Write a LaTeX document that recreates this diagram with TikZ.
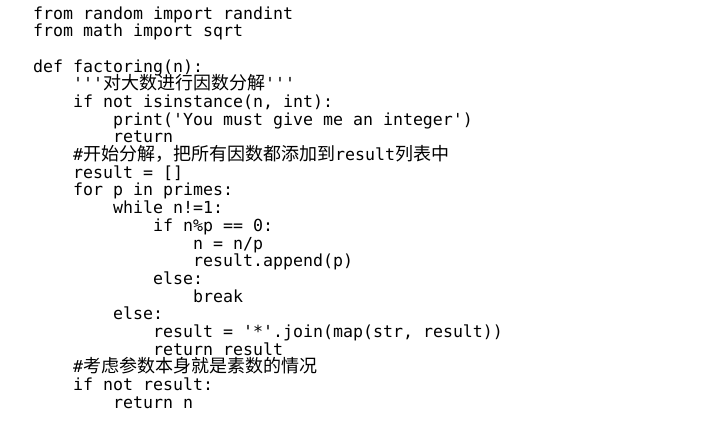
\documentclass[tikz,border=0pt]{standalone}
\usepackage{fontspec}
\setmonofont{DejaVu Sans Mono}
\newfontfamily\cjkf{Noto Sans CJK SC}
\newcommand\cjk{\cjkf\fontsize{18bp}{17bp}\selectfont}
\begin{document}
\begin{tikzpicture}[x=1bp,y=-1bp,
  codeline/.style={anchor=base west,inner sep=0pt,font=\ttfamily\fontsize{16.6bp}{17bp}\selectfont}]
\useasboundingbox (0,0) rectangle (704,432);
\fill[white] (0,0) rectangle (704,432);
\node[codeline] (l1) at (33,19) {from random import randint};
\node[codeline] (l2) at (33,36.7) {from math import sqrt};
\node[codeline] (l4) at (33,72) {def factoring(n):};
\node[codeline] (l5) at (73,89.7) {'''{\cjk 对大数进行因数分解}'''};
\node[codeline] (l6) at (73,107.4) {if not isinstance(n, int):};
\node[codeline] (l7) at (113,125.1) {print('You must give me an integer')};
\node[codeline] (l8) at (113,142.8) {return};
\node[codeline] (l9) at (73,160.5) {\#{\cjk 开始分解，把所有因数都添加到}result{\cjk 列表中}};
\node[codeline] (l10) at (73,178.2) {result = []};
\node[codeline] (l11) at (73,195.9) {for p in primes:};
\node[codeline] (l12) at (113,213.6) {while n!=1:};
\node[codeline] (l13) at (153,231.3) {if n\%p == 0:};
\node[codeline] (l14) at (193,249) {n = n/p};
\node[codeline] (l15) at (193,266.7) {result.append(p)};
\node[codeline] (l16) at (153,284.4) {else:};
\node[codeline] (l17) at (193,302.1) {break};
\node[codeline] (l18) at (113,319.8) {else:};
\node[codeline] (l19) at (153,337.5) {result = '*'.join(map(str, result))};
\node[codeline] (l20) at (153,355.2) {return result};
\node[codeline] (l21) at (73,372.9) {\#{\cjk 考虑参数本身就是素数的情况}};
\node[codeline] (l22) at (73,390.6) {if not result:};
\node[codeline] (l23) at (113,408.3) {return n};
\end{tikzpicture}
\end{document}
